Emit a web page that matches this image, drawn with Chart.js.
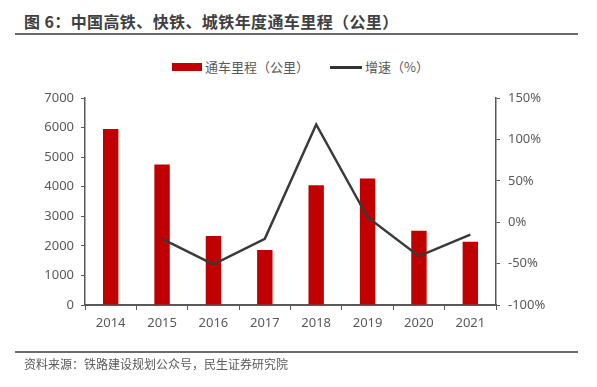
<!DOCTYPE html>
<html>
<head>
<meta charset="utf-8">
<script src="https://cdn.jsdelivr.net/npm/chart.js@4/dist/chart.umd.min.js"></script>
<style>
  body { margin: 0; background: #fff; font-family: "Noto Sans CJK SC", "Noto Sans", sans-serif; }
  #wrap { position: relative; width: 597px; height: 387px; }
  #chart { position: absolute; left: 0; top: 0; }
  .title { position: absolute; left: 24px; top: 9px; font-size: 16px; letter-spacing: 0.4px; font-weight: bold; color: #404040; }
  .rule { position: absolute; left: 15px; width: 563px; height: 2px; background: #6b6b6b; }
  .legend { position: absolute; top: 57px; left: 0; width: 597px; font-size: 13px; color: #595959; }
  .legend span { position: absolute; white-space: nowrap; }
  .source { position: absolute; left: 24px; top: 355px; font-size: 12px; color: #595959; }
</style>
</head>
<body>
<div id="wrap">
  <div class="title">图 6：中国高铁、快铁、城铁年度通车里程（公里）</div>
  <div class="rule" style="top:33px"></div>
  <div class="legend">
    <span style="left:172px;top:6px;width:30px;height:8px;background:#c00000"></span>
    <span style="left:205px;top:0">通车里程（公里）</span>
    <span style="left:330px;top:9px;width:32px;height:2.5px;background:#333"></span>
    <span style="left:365px;top:0">增速（%）</span>
  </div>
  <canvas id="chart" width="597" height="387"></canvas>
  <div class="rule" style="top:351px"></div>
  <div class="source">资料来源：铁路建设规划公众号，民生证券研究院</div>
</div>
<script>
const years = ['2014', '2015', '2016', '2017', '2018', '2019', '2020', '2021'];
const mileage = [5950, 4750, 2330, 1860, 4050, 4280, 2510, 2140];
const growth = [null, -20, -51, -20, 118, 6, -41, -15];

const axisColor = '#595959';
const tickFont = { family: 'Noto Sans', size: 13 };

new Chart(document.getElementById('chart'), {
  type: 'bar',
  data: {
    labels: years,
    datasets: [
      {
        type: 'line',
        label: '增速（%）',
        data: growth,
        yAxisID: 'y2',
        borderColor: '#3a3a3a',
        borderWidth: 2.5,
        pointRadius: 0,
        tension: 0,
        order: 0
      },
      {
        label: '通车里程（公里）',
        data: mileage,
        yAxisID: 'y',
        backgroundColor: '#c00000',
        barPercentage: 0.3,
        categoryPercentage: 1,
        order: 1
      }
    ]
  },
  options: {
    responsive: false,
    animation: false,
    layout: { padding: { top: 98, left: 0, right: 0, bottom: 0 } },
    plugins: { legend: { display: false }, tooltip: { enabled: false } },
    scales: {
      x: {
        offset: true,
        grid: { offset: true, drawOnChartArea: false, drawTicks: true, tickLength: 5, color: axisColor },
        border: { color: axisColor, width: 2 },
        ticks: { color: axisColor, font: tickFont, padding: 5 },
        afterFit: s => { s.height = 82; }
      },
      y: {
        position: 'left',
        min: 0, max: 7000,
        ticks: { stepSize: 1000, color: axisColor, font: tickFont, padding: 7, callback: v => String(v) },
        grid: { drawOnChartArea: false, tickLength: 4, color: axisColor },
        border: { color: axisColor, width: 1.5 },
        afterFit: s => { s.width = 85; }
      },
      y2: {
        position: 'right',
        min: -100, max: 150,
        ticks: { stepSize: 50, color: axisColor, font: tickFont, padding: 8, callback: v => v + '%' },
        grid: { drawOnChartArea: false, tickLength: 4, color: axisColor },
        border: { color: axisColor, width: 1.5 },
        afterFit: s => { s.width = 101; }
      }
    }
  }
});
</script>
</body>
</html>
